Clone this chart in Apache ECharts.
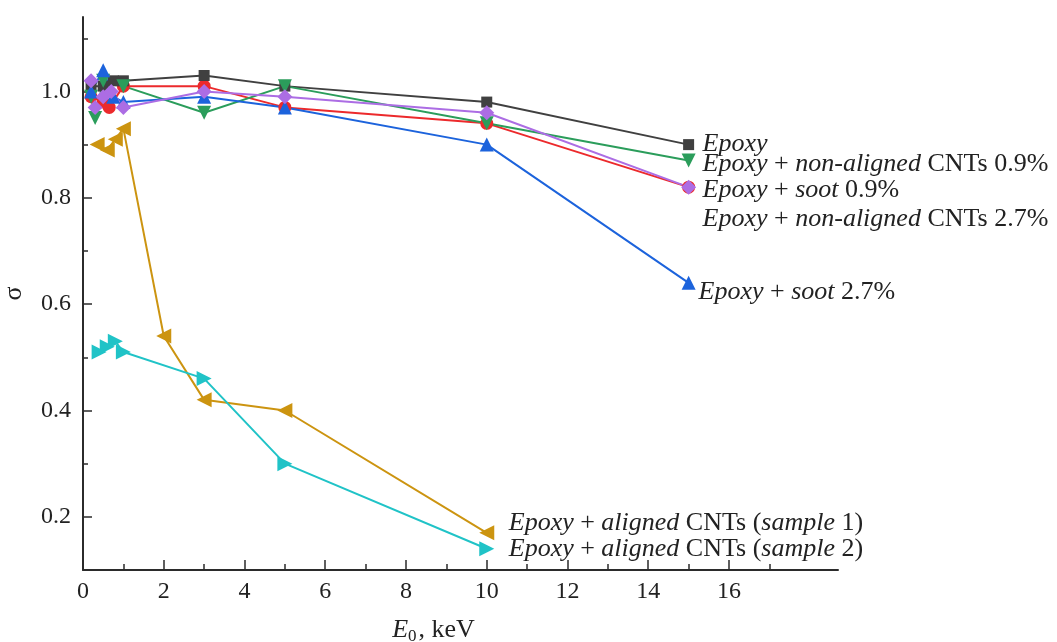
<!DOCTYPE html>
<html lang="en">
<head>
    <meta charset="UTF-8">
    <script type="text/javascript" src="https://cdn.jsdelivr.net/npm/echarts@6/dist/echarts.min.js"></script>
    <style>
        html, body { margin: 0; padding: 0; background: #fff; }
        #chart { width: 1057px; height: 642px; }
    </style>
</head>
<body>
<div id="chart"></div>
<script type="text/javascript">
    // values (E0 in keV, sigma)
    var epoxyX = [0.2, 0.5, 0.75, 1, 3, 5, 10, 15];
    var epoxyY = [1.01, 1.01, 1.02, 1.02, 1.03, 1.01, 0.98, 0.90];

    var nonAl09X = [0.2, 0.3, 0.5, 1, 3, 5, 10, 15];
    var nonAl09Y = [0.99, 0.95, 1.02, 1.01, 0.96, 1.01, 0.94, 0.87];

    var soot09X = [0.2, 0.3, 0.5, 0.7, 1, 3, 5, 10, 15];
    var soot09Y = [1.02, 0.97, 0.99, 1.00, 0.97, 1.00, 0.99, 0.96, 0.82];

    var nonAl27X = [0.2, 0.5, 0.65, 1, 3, 5, 10, 15];
    var nonAl27Y = [0.99, 0.98, 0.97, 1.01, 1.01, 0.97, 0.94, 0.82];

    var soot27X = [0.2, 0.5, 0.75, 1, 3, 5, 10, 15];
    var soot27Y = [1.00, 1.04, 0.99, 0.98, 0.99, 0.97, 0.90, 0.64];

    var sample1X = [0.35, 0.6, 0.8, 1, 2, 3, 5, 10];
    var sample1Y = [0.90, 0.89, 0.91, 0.93, 0.54, 0.42, 0.40, 0.17];

    var sample2X = [0.4, 0.6, 0.8, 1, 3, 5, 10];
    var sample2Y = [0.51, 0.52, 0.53, 0.51, 0.46, 0.30, 0.14];

    var xMajorTicks = [0, 2, 4, 6, 8, 10, 12, 14, 16];
    var xMinorTicks = [1, 3, 5, 7, 9, 11, 13, 15, 17];
    var yMajorTicks = [0.2, 0.4, 0.6, 0.8, 1.0];
    var yMinorTicks = [0.3, 0.5, 0.7, 0.9, 1.1];

    var font = 'Liberation Serif';
    var axisColor = '#2b2b2b';
    var textColor = '#222';

    function pairs(xs, ys) {
        var out = [];
        for (var i = 0; i < xs.length; i++) out.push([xs[i], ys[i]]);
        return out;
    }

    var rich = {
        i: { fontFamily: font, fontSize: 26, fontStyle: 'italic', color: textColor },
        n: { fontFamily: font, fontSize: 26, color: textColor }
    };

    function makeSeries(name, xs, ys, color, symbol, size, rotate, text, offset, distance) {
        return {
            name: name,
            type: 'line',
            data: pairs(xs, ys),
            symbol: symbol,
            symbolSize: size,
            symbolRotate: rotate,
            lineStyle: { color: color, width: 2 },
            itemStyle: { color: color },
            animation: false,
            endLabel: {
                show: true,
                formatter: function () { return text; },
                rich: rich,
                offset: offset,
                distance: distance
            }
        };
    }

    var chart = echarts.init(document.getElementById('chart'));
    chart.setOption({
        backgroundColor: '#fff',
        textStyle: { fontFamily: font },
        grid: { left: 83, right: 219, top: 17, bottom: 72, outerBoundsMode: 'none', containLabel: false },
        xAxis: [{
            type: 'value',
            min: 0,
            max: 18.7,
            name: '{i|E}{s|0}{n|, keV}',
            nameLocation: 'middle',
            nameGap: 46,
            nameTextStyle: {
                padding: [0, 54, 0, 0],
                rich: {
                    i: { fontFamily: font, fontSize: 26, fontStyle: 'italic', color: textColor },
                    s: { fontFamily: font, fontSize: 17, color: textColor, padding: [12, 2, 0, 0] },
                    n: { fontFamily: font, fontSize: 26, color: textColor }
                }
            },
            axisLine: { show: true, lineStyle: { color: axisColor, width: 2 } },
            axisTick: { show: true, inside: true, length: 10, customValues: xMajorTicks, lineStyle: { color: axisColor, width: 1.5 } },
            axisLabel: { customValues: xMajorTicks, fontFamily: font, fontSize: 24, color: textColor, margin: 10 },
            splitLine: { show: false }
        }, {
            type: 'value',
            min: 0,
            max: 18.7,
            position: 'bottom',
            axisLine: { show: false },
            axisTick: { show: true, inside: true, length: 6, customValues: xMinorTicks, lineStyle: { color: axisColor, width: 1.5 } },
            axisLabel: { show: false },
            splitLine: { show: false }
        }],
        yAxis: [{
            type: 'value',
            min: 0.1,
            max: 1.14,
            name: 'σ',
            nameLocation: 'middle',
            nameRotate: 90,
            nameGap: 56,
            nameTextStyle: { fontFamily: font, fontSize: 26, color: textColor },
            axisLine: { show: true, lineStyle: { color: axisColor, width: 2 } },
            axisTick: { show: true, inside: true, length: 9, customValues: yMajorTicks, lineStyle: { color: axisColor, width: 1.5 } },
            axisLabel: {
                customValues: yMajorTicks,
                fontFamily: font, fontSize: 24, color: textColor, margin: 12,
                formatter: function (v) { return v.toFixed(1); }
            },
            splitLine: { show: false }
        }, {
            type: 'value',
            min: 0.1,
            max: 1.14,
            position: 'left',
            axisLine: { show: false },
            axisTick: { show: true, inside: true, length: 5, customValues: yMinorTicks, lineStyle: { color: axisColor, width: 1.5 } },
            axisLabel: { show: false },
            splitLine: { show: false }
        }],
        series: [
            makeSeries('nonAl27', nonAl27X, nonAl27Y, '#ec2a2c', 'circle', 13, 0,
                '{i|Epoxy}{n| + }{i|non-aligned}{n| CNTs 2.7%}', [0, 32], 14),
            makeSeries('epoxy', epoxyX, epoxyY, '#404040', 'rect', 11, 0,
                '{i|Epoxy}', [0, 0], 14),
            makeSeries('nonAl09', nonAl09X, nonAl09Y, '#2b9d5b', 'triangle', 14, 180,
                '{i|Epoxy}{n| + }{i|non-aligned}{n| CNTs 0.9%}', [0, 4], 14),
            makeSeries('soot27', soot27X, soot27Y, '#1c63dc', 'triangle', 14, 0,
                '{i|Epoxy}{n| + }{i|soot}{n| 2.7%}', [0, 9], 10),
            makeSeries('soot09', soot09X, soot09Y, '#ac6de4', 'diamond', 15, 0,
                '{i|Epoxy}{n| + }{i|soot}{n| 0.9%}', [0, 3], 14),
            makeSeries('sample1', sample1X, sample1Y, '#cc9410', 'triangle', 15, 90,
                '{i|Epoxy}{n| + }{i|aligned}{n| CNTs (}{i|sample}{n| 1)}', [0, -10], 22),
            makeSeries('sample2', sample2X, sample2Y, '#20c3c7', 'triangle', 15, -90,
                '{i|Epoxy}{n| + }{i|aligned}{n| CNTs (}{i|sample}{n| 2)}', [0, 0], 22)
        ]
    });
</script>
</body>
</html>
